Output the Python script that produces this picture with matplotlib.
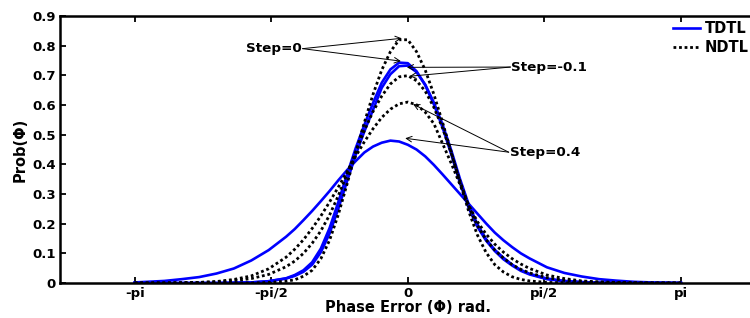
import matplotlib.pyplot as plt

plt.rcParams['font.family'] = ['DejaVu Sans']
plt.rcParams['font.weight'] = 'bold'

# phase error grid (rad) and pdf values
phase = [-3.1416, -3.0, -2.8, -2.6, -2.4, -2.2, -2.0, -1.8, -1.6, -1.4, -1.3, -1.2, -1.1, -1.0,
         -0.9, -0.8, -0.7, -0.6, -0.5, -0.4, -0.3, -0.2, -0.1, 0.0, 0.1, 0.2, 0.3, 0.4, 0.5, 0.6,
         0.7, 0.8, 0.9, 1.0, 1.1, 1.2, 1.3, 1.4, 1.6, 1.8, 2.0, 2.2, 2.4, 2.6, 2.8, 3.0, 3.1416]

# TDTL (solid blue)
tdtl_s04 = [0.002, 0.004, 0.007, 0.013, 0.020, 0.032, 0.049, 0.076, 0.111, 0.156, 0.182, 0.212, 0.243, 0.276,
            0.310, 0.346, 0.380, 0.411, 0.440, 0.460, 0.473, 0.480, 0.477, 0.466, 0.450, 0.427, 0.398, 0.366,
            0.333, 0.300, 0.267, 0.234, 0.201, 0.170, 0.144, 0.121, 0.100, 0.083, 0.053, 0.034, 0.022, 0.013,
            0.008, 0.004, 0.002, 0.001, 0.000]
tdtl_s0 = [0, 0, 0, 0, 0, 0, 0.001, 0.002, 0.006, 0.016, 0.027, 0.043, 0.070, 0.116,
           0.185, 0.272, 0.365, 0.454, 0.533, 0.607, 0.675, 0.720, 0.743, 0.741, 0.714, 0.667, 0.602, 0.524,
           0.434, 0.337, 0.253, 0.190, 0.143, 0.108, 0.080, 0.059, 0.041, 0.029, 0.013, 0.006, 0.003, 0.001,
           0.001, 0, 0, 0, 0]
tdtl_sm01 = [0, 0, 0, 0, 0, 0, 0.001, 0.002, 0.006, 0.015, 0.024, 0.038, 0.062, 0.104,
             0.167, 0.250, 0.342, 0.431, 0.511, 0.584, 0.658, 0.704, 0.731, 0.733, 0.711, 0.669, 0.608, 0.534,
             0.447, 0.351, 0.265, 0.198, 0.148, 0.112, 0.085, 0.062, 0.044, 0.031, 0.015, 0.007, 0.003, 0.001,
             0.001, 0, 0, 0, 0]

# NDTL (dotted black)
ndtl_s0 = [0, 0, 0, 0, 0, 0, 0, 0, 0.002, 0.006, 0.011, 0.023, 0.043, 0.082,
           0.144, 0.230, 0.332, 0.439, 0.541, 0.636, 0.718, 0.780, 0.820, 0.820, 0.780, 0.718, 0.636, 0.541,
           0.441, 0.338, 0.242, 0.162, 0.103, 0.062, 0.037, 0.021, 0.012, 0.007, 0.002, 0.001, 0, 0,
           0, 0, 0, 0, 0]
ndtl_sm01 = [0, 0, 0, 0.001, 0.002, 0.004, 0.008, 0.015, 0.029, 0.055, 0.074, 0.100, 0.134, 0.176,
             0.229, 0.294, 0.366, 0.442, 0.514, 0.578, 0.630, 0.671, 0.695, 0.699, 0.682, 0.647, 0.592, 0.522,
             0.437, 0.344, 0.259, 0.194, 0.146, 0.111, 0.084, 0.062, 0.046, 0.034, 0.018, 0.009, 0.005, 0.002,
             0.001, 0, 0, 0, 0]
ndtl_s04 = [0, 0, 0, 0.001, 0.002, 0.005, 0.012, 0.024, 0.048, 0.087, 0.114, 0.146, 0.184, 0.226,
            0.273, 0.323, 0.375, 0.427, 0.476, 0.520, 0.558, 0.586, 0.604, 0.610, 0.601, 0.576, 0.537, 0.470,
            0.403, 0.332, 0.262, 0.207, 0.165, 0.131, 0.104, 0.082, 0.064, 0.049, 0.027, 0.015, 0.007, 0.004,
            0.002, 0.001, 0, 0, 0]

xticks = [-3.1416, -1.5708, 0, 1.5708, 3.1416]
xlabels = ['-pi', '-pi/2', '0', 'pi/2', 'pi']
yticks = [0, 0.1, 0.2, 0.3, 0.4, 0.5, 0.6, 0.7, 0.8, 0.9]
ylabels = ['0', '0.1', '0.2', '0.3', '0.4', '0.5', '0.6', '0.7', '0.8', '0.9']

fig = plt.figure(figsize=(7.5, 3.18), dpi=100)
ax = fig.add_axes([0.08, 0.110, 0.9275, 0.8396])

blue = '#0000ff'
ax.plot(phase, tdtl_s04, color=blue, lw=1.9, label='TDTL')
ax.plot(phase, tdtl_s0, color=blue, lw=1.9)
ax.plot(phase, tdtl_sm01, color=blue, lw=1.9)
ax.plot(phase, ndtl_s0, color='k', lw=2.0, ls=(0, (1, 1)), label='NDTL')
ax.plot(phase, ndtl_sm01, color='k', lw=2.0, ls=(0, (1, 1)))
ax.plot(phase, ndtl_s04, color='k', lw=2.0, ls=(0, (1, 1)))

ax.set_xlim(-4, 4)
ax.set_ylim(0, 0.9)
ax.set_xticks(xticks)
ax.set_xticklabels(xlabels)
ax.set_yticks(yticks)
ax.set_yticklabels(ylabels)
ax.tick_params(direction='in', top=True, right=True, length=4, width=1.3, labelsize=9.5, pad=3)
for s in ax.spines.values():
    s.set_linewidth(1.8)

ax.set_xlabel('Phase Error (\u03a6) rad.', fontsize=10.5, fontweight='bold', labelpad=0)
ax.set_ylabel('Prob(\u03a6)', fontsize=10.5, fontweight='bold', labelpad=3)

# annotations
arr = dict(arrowstyle='->', color='k', lw=0.7, shrinkA=0, shrinkB=0)
ax.text(-1.22, 0.79, 'Step=0', fontsize=9.7, fontweight='bold', ha='right', va='center')
ax.annotate('', xy=(-0.07, 0.825), xytext=(-1.21, 0.79), arrowprops=arr)
ax.annotate('', xy=(-0.08, 0.748), xytext=(-1.21, 0.79), arrowprops=arr)

ax.text(1.19, 0.728, 'Step=-0.1', fontsize=9.7, fontweight='bold', ha='left', va='center')
ax.annotate('', xy=(-0.01, 0.727), xytext=(1.18, 0.728), arrowprops=arr)
ax.annotate('', xy=(0.02, 0.697), xytext=(1.18, 0.728), arrowprops=arr)

ax.text(1.17, 0.441, 'Step=0.4', fontsize=9.7, fontweight='bold', ha='left', va='center')
ax.annotate('', xy=(0.06, 0.603), xytext=(1.16, 0.441), arrowprops=arr)
ax.annotate('', xy=(-0.03, 0.488), xytext=(1.16, 0.441), arrowprops=arr)

ax.legend(loc='upper left', bbox_to_anchor=(0.897, 0.935), bbox_transform=fig.transFigure,
          frameon=False, fontsize=10.5, handlelength=1.9, handletextpad=0.3, labelspacing=0.3,
          borderaxespad=0, borderpad=0)

fig.savefig('out.png', dpi=100)
